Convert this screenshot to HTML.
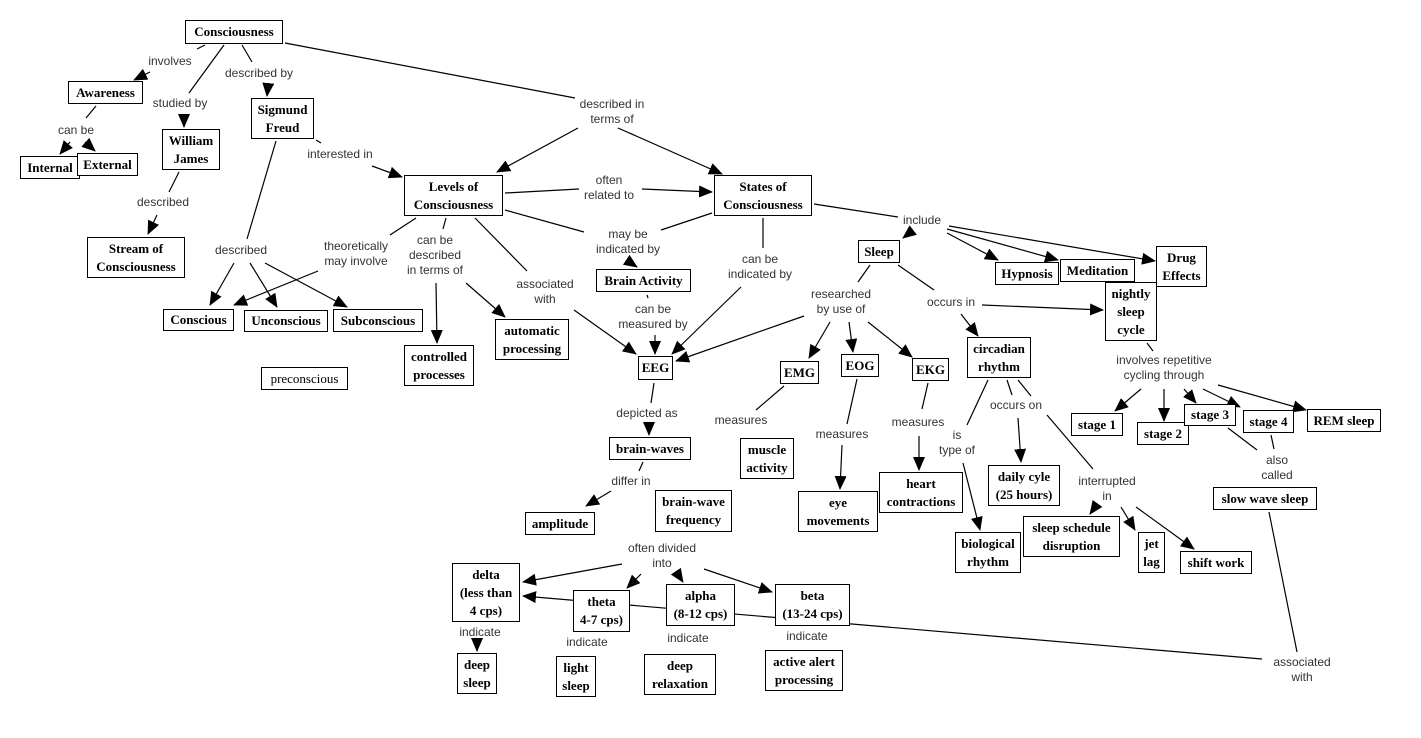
<!DOCTYPE html>
<html><head><meta charset="utf-8"><style>
body{margin:0;width:1421px;height:738px;background:#fff;position:relative;overflow:hidden}
svg{position:absolute;left:0;top:0}
.n{position:absolute;box-sizing:border-box;border:1.5px solid #000;background:#fff;display:flex;align-items:center;justify-content:center;text-align:center;font:bold 13px/18px "Liberation Serif",serif;color:#000;white-space:nowrap}
.l{position:absolute;font:12px/15px "Liberation Sans",sans-serif;color:#333;text-align:center;white-space:nowrap;transform:translateX(-50%)}
.pc{font-weight:normal}
</style></head><body>
<svg width="1421" height="738" viewBox="0 0 1421 738">
<defs><marker id="a" markerUnits="userSpaceOnUse" markerWidth="14" markerHeight="12" refX="13" refY="6" orient="auto"><path d="M0,0 L14,6 L0,12 z" fill="#000"/></marker></defs>
<g stroke="#000" stroke-width="1.2" fill="none">
<line x1="205" y1="45" x2="197" y2="49"/>
<line x1="150" y1="72" x2="134" y2="80" marker-end="url(#a)"/>
<line x1="224" y1="45" x2="189" y2="93"/>
<line x1="184" y1="116" x2="184" y2="127" marker-end="url(#a)"/>
<line x1="242" y1="45" x2="252" y2="62"/>
<line x1="268" y1="86" x2="267" y2="96" marker-end="url(#a)"/>
<line x1="285" y1="43" x2="575" y2="98"/>
<line x1="578" y1="128" x2="497" y2="172" marker-end="url(#a)"/>
<line x1="618" y1="128" x2="722" y2="174" marker-end="url(#a)"/>
<line x1="96" y1="106" x2="86" y2="118"/>
<line x1="70" y1="142" x2="60" y2="154" marker-end="url(#a)"/>
<line x1="85" y1="142" x2="95" y2="151" marker-end="url(#a)"/>
<line x1="179" y1="172" x2="169" y2="192"/>
<line x1="157" y1="215" x2="148" y2="234" marker-end="url(#a)"/>
<line x1="276" y1="141" x2="247" y2="239"/>
<line x1="234" y1="263" x2="210" y2="305" marker-end="url(#a)"/>
<line x1="250" y1="263" x2="277" y2="307" marker-end="url(#a)"/>
<line x1="265" y1="263" x2="347" y2="307" marker-end="url(#a)"/>
<line x1="316" y1="140" x2="321" y2="143"/>
<line x1="372" y1="166" x2="402" y2="177" marker-end="url(#a)"/>
<line x1="416" y1="218" x2="390" y2="235"/>
<line x1="318" y1="271" x2="234" y2="305" marker-end="url(#a)"/>
<line x1="446" y1="218" x2="443" y2="229"/>
<line x1="436" y1="283" x2="437" y2="343" marker-end="url(#a)"/>
<line x1="475" y1="218" x2="527" y2="271"/>
<line x1="466" y1="283" x2="505" y2="317" marker-end="url(#a)"/>
<line x1="574" y1="310" x2="636" y2="354" marker-end="url(#a)"/>
<line x1="505" y1="193" x2="579" y2="189"/>
<line x1="642" y1="189" x2="712" y2="192" marker-end="url(#a)"/>
<line x1="505" y1="210" x2="584" y2="232"/>
<line x1="628" y1="261" x2="637" y2="267" marker-end="url(#a)"/>
<line x1="712" y1="213" x2="661" y2="230"/>
<line x1="763" y1="218" x2="763" y2="248"/>
<line x1="741" y1="287" x2="672" y2="354" marker-end="url(#a)"/>
<line x1="647" y1="295" x2="648" y2="298"/>
<line x1="655" y1="335" x2="655" y2="354" marker-end="url(#a)"/>
<line x1="814" y1="204" x2="898" y2="217"/>
<line x1="912" y1="231" x2="903" y2="238" marker-end="url(#a)"/>
<line x1="947" y1="233" x2="998" y2="260" marker-end="url(#a)"/>
<line x1="947" y1="229" x2="1058" y2="260" marker-end="url(#a)"/>
<line x1="949" y1="226" x2="1155" y2="261" marker-end="url(#a)"/>
<line x1="870" y1="265" x2="858" y2="282"/>
<line x1="804" y1="316" x2="676" y2="361" marker-end="url(#a)"/>
<line x1="830" y1="322" x2="809" y2="358" marker-end="url(#a)"/>
<line x1="849" y1="322" x2="853" y2="352" marker-end="url(#a)"/>
<line x1="868" y1="322" x2="912" y2="357" marker-end="url(#a)"/>
<line x1="898" y1="265" x2="934" y2="290"/>
<line x1="982" y1="305" x2="1103" y2="310" marker-end="url(#a)"/>
<line x1="961" y1="314" x2="978" y2="336" marker-end="url(#a)"/>
<line x1="654" y1="383" x2="651" y2="403"/>
<line x1="649" y1="424" x2="649" y2="435" marker-end="url(#a)"/>
<line x1="784" y1="386" x2="756" y2="410"/>
<line x1="857" y1="379" x2="847" y2="424"/>
<line x1="842" y1="445" x2="840" y2="489" marker-end="url(#a)"/>
<line x1="928" y1="383" x2="922" y2="409"/>
<line x1="919" y1="436" x2="919" y2="470" marker-end="url(#a)"/>
<line x1="643" y1="462" x2="639" y2="471"/>
<line x1="611" y1="491" x2="586" y2="506" marker-end="url(#a)"/>
<line x1="622" y1="564" x2="523" y2="582" marker-end="url(#a)"/>
<line x1="641" y1="574" x2="627" y2="588" marker-end="url(#a)"/>
<line x1="677" y1="573" x2="683" y2="582" marker-end="url(#a)"/>
<line x1="704" y1="569" x2="772" y2="592" marker-end="url(#a)"/>
<line x1="477" y1="644" x2="477" y2="651" marker-end="url(#a)"/>
<line x1="1269" y1="512" x2="1297" y2="652"/>
<line x1="1262" y1="659" x2="523" y2="596" marker-end="url(#a)"/>
<line x1="1147" y1="343" x2="1153" y2="351"/>
<line x1="1141" y1="389" x2="1115" y2="411" marker-end="url(#a)"/>
<line x1="1164" y1="389" x2="1164" y2="421" marker-end="url(#a)"/>
<line x1="1184" y1="389" x2="1196" y2="403" marker-end="url(#a)"/>
<line x1="1203" y1="389" x2="1240" y2="407" marker-end="url(#a)"/>
<line x1="1218" y1="385" x2="1306" y2="410" marker-end="url(#a)"/>
<line x1="1228" y1="428" x2="1257" y2="450"/>
<line x1="1271" y1="435" x2="1274" y2="449"/>
<line x1="988" y1="380" x2="967" y2="425"/>
<line x1="963" y1="463" x2="980" y2="530" marker-end="url(#a)"/>
<line x1="1007" y1="380" x2="1012" y2="395"/>
<line x1="1018" y1="418" x2="1021" y2="462" marker-end="url(#a)"/>
<line x1="1018" y1="380" x2="1031" y2="396"/>
<line x1="1047" y1="415" x2="1093" y2="469"/>
<line x1="1095" y1="507" x2="1090" y2="514" marker-end="url(#a)"/>
<line x1="1121" y1="507" x2="1135" y2="530" marker-end="url(#a)"/>
<line x1="1136" y1="507" x2="1194" y2="549" marker-end="url(#a)"/>
</g></svg>

<div class="n" style="left:185px;top:20px;width:98px;height:24px">Consciousness</div>
<div class="n" style="left:68px;top:81px;width:75px;height:23px">Awareness</div>
<div class="n" style="left:20px;top:156px;width:60px;height:23px">Internal</div>
<div class="n" style="left:77px;top:153px;width:61px;height:23px">External</div>
<div class="n" style="left:162px;top:129px;width:58px;height:41px">William<br>James</div>
<div class="n" style="left:251px;top:98px;width:63px;height:41px">Sigmund<br>Freud</div>
<div class="n" style="left:87px;top:237px;width:98px;height:41px">Stream of<br>Consciousness</div>
<div class="n" style="left:404px;top:175px;width:99px;height:41px">Levels of<br>Consciousness</div>
<div class="n" style="left:714px;top:175px;width:98px;height:41px">States of<br>Consciousness</div>
<div class="n" style="left:596px;top:269px;width:95px;height:23px">Brain Activity</div>
<div class="n" style="left:495px;top:319px;width:74px;height:41px">automatic<br>processing</div>
<div class="n" style="left:404px;top:345px;width:70px;height:41px">controlled<br>processes</div>
<div class="n" style="left:163px;top:309px;width:71px;height:22px">Conscious</div>
<div class="n" style="left:244px;top:310px;width:84px;height:22px">Unconscious</div>
<div class="n" style="left:333px;top:309px;width:90px;height:23px">Subconscious</div>
<div class="n pc" style="left:261px;top:367px;width:87px;height:23px">preconscious</div>
<div class="n" style="left:638px;top:356px;width:35px;height:24px">EEG</div>
<div class="n" style="left:780px;top:361px;width:39px;height:23px">EMG</div>
<div class="n" style="left:841px;top:354px;width:38px;height:23px">EOG</div>
<div class="n" style="left:912px;top:358px;width:37px;height:23px">EKG</div>
<div class="n" style="left:858px;top:240px;width:42px;height:23px">Sleep</div>
<div class="n" style="left:740px;top:438px;width:54px;height:41px">muscle<br>activity</div>
<div class="n" style="left:609px;top:437px;width:82px;height:23px">brain-waves</div>
<div class="n" style="left:798px;top:491px;width:80px;height:41px">eye<br>movements</div>
<div class="n" style="left:879px;top:472px;width:84px;height:41px">heart<br>contractions</div>
<div class="n" style="left:525px;top:512px;width:70px;height:23px">amplitude</div>
<div class="n" style="left:655px;top:490px;width:77px;height:42px">brain-wave<br>frequency</div>
<div class="n" style="left:452px;top:563px;width:68px;height:59px">delta<br>(less than<br>4 cps)</div>
<div class="n" style="left:573px;top:590px;width:57px;height:42px">theta<br>4-7 cps)</div>
<div class="n" style="left:666px;top:584px;width:69px;height:42px">alpha<br>(8-12 cps)</div>
<div class="n" style="left:775px;top:584px;width:75px;height:42px">beta<br>(13-24 cps)</div>
<div class="n" style="left:457px;top:653px;width:40px;height:41px">deep<br>sleep</div>
<div class="n" style="left:556px;top:656px;width:40px;height:41px">light<br>sleep</div>
<div class="n" style="left:644px;top:654px;width:72px;height:41px">deep<br>relaxation</div>
<div class="n" style="left:765px;top:650px;width:78px;height:41px">active alert<br>processing</div>
<div class="n" style="left:995px;top:262px;width:64px;height:23px">Hypnosis</div>
<div class="n" style="left:1060px;top:259px;width:75px;height:23px">Meditation</div>
<div class="n" style="left:1156px;top:246px;width:51px;height:41px">Drug<br>Effects</div>
<div class="n" style="left:1105px;top:282px;width:52px;height:59px">nightly<br>sleep<br>cycle</div>
<div class="n" style="left:967px;top:337px;width:64px;height:41px">circadian<br>rhythm</div>
<div class="n" style="left:1071px;top:413px;width:52px;height:23px">stage 1</div>
<div class="n" style="left:1137px;top:422px;width:52px;height:23px">stage 2</div>
<div class="n" style="left:1184px;top:404px;width:52px;height:22px">stage 3</div>
<div class="n" style="left:1243px;top:410px;width:51px;height:23px">stage 4</div>
<div class="n" style="left:1307px;top:409px;width:74px;height:23px">REM sleep</div>
<div class="n" style="left:1213px;top:487px;width:104px;height:23px">slow wave sleep</div>
<div class="n" style="left:988px;top:465px;width:72px;height:41px">daily cyle<br>(25 hours)</div>
<div class="n" style="left:955px;top:532px;width:66px;height:41px">biological<br>rhythm</div>
<div class="n" style="left:1023px;top:516px;width:97px;height:41px">sleep schedule<br>disruption</div>
<div class="n" style="left:1138px;top:532px;width:27px;height:41px">jet<br>lag</div>
<div class="n" style="left:1180px;top:551px;width:72px;height:23px">shift work</div>

<div class="l" style="left:170px;top:54px">involves</div>
<div class="l" style="left:259px;top:66px">described by</div>
<div class="l" style="left:180px;top:96px">studied by</div>
<div class="l" style="left:76px;top:123px">can be</div>
<div class="l" style="left:340px;top:147px">interested in</div>
<div class="l" style="left:163px;top:195px">described</div>
<div class="l" style="left:612px;top:97px">described in<br>terms of</div>
<div class="l" style="left:609px;top:173px">often<br>related to</div>
<div class="l" style="left:628px;top:227px">may be<br>indicated by</div>
<div class="l" style="left:922px;top:213px">include</div>
<div class="l" style="left:241px;top:243px">described</div>
<div class="l" style="left:356px;top:239px">theoretically<br>may involve</div>
<div class="l" style="left:435px;top:233px">can be<br>described<br>in terms of</div>
<div class="l" style="left:545px;top:277px">associated<br>with</div>
<div class="l" style="left:760px;top:252px">can be<br>indicated by</div>
<div class="l" style="left:653px;top:302px">can be<br>measured by</div>
<div class="l" style="left:841px;top:287px">researched<br>by use of</div>
<div class="l" style="left:951px;top:295px">occurs in</div>
<div class="l" style="left:647px;top:406px">depicted as</div>
<div class="l" style="left:741px;top:413px">measures</div>
<div class="l" style="left:842px;top:427px">measures</div>
<div class="l" style="left:918px;top:415px">measures</div>
<div class="l" style="left:1164px;top:353px">involves repetitive<br>cycling through</div>
<div class="l" style="left:957px;top:428px">is<br>type of</div>
<div class="l" style="left:1016px;top:398px">occurs on</div>
<div class="l" style="left:1107px;top:474px">interrupted<br>in</div>
<div class="l" style="left:1277px;top:453px">also<br>called</div>
<div class="l" style="left:631px;top:474px">differ in</div>
<div class="l" style="left:662px;top:541px">often divided<br>into</div>
<div class="l" style="left:480px;top:625px">indicate</div>
<div class="l" style="left:587px;top:635px">indicate</div>
<div class="l" style="left:688px;top:631px">indicate</div>
<div class="l" style="left:807px;top:629px">indicate</div>
<div class="l" style="left:1302px;top:655px">associated<br>with</div>
</body></html>
